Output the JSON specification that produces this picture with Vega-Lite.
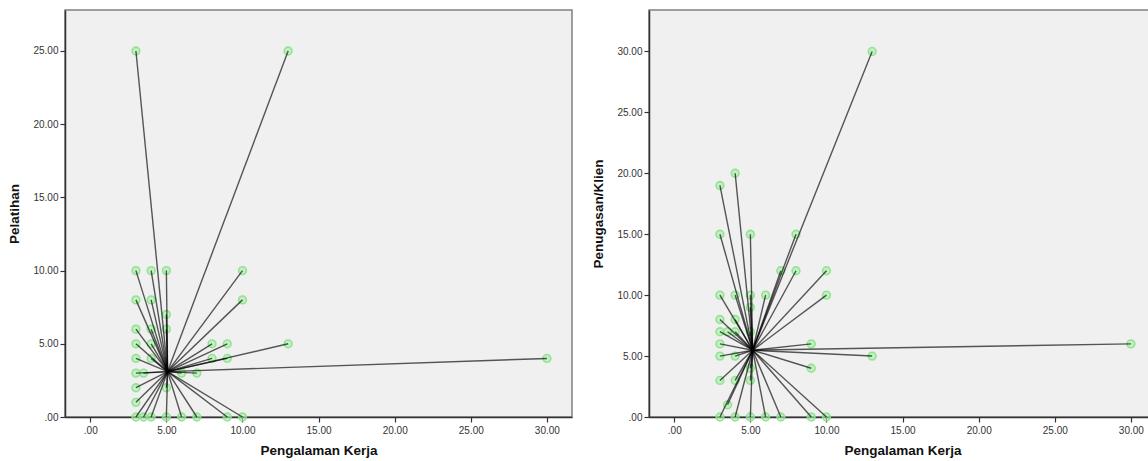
{
  "$schema": "https://vega.github.io/schema/vega-lite/v6.json",
  "background": "white",
  "padding": {"left": 7, "top": 9, "right": 0, "bottom": 0},
  "spacing": 77,
  "bounds": "flush",
  "config": {
    "font": "Liberation Sans",
    "view": {"fill": "#f0f0f0", "stroke": "#808080", "strokeWidth": 1.5},
    "axis": {
      "grid": false,
      "domainColor": "#333333",
      "domainWidth": 1.5,
      "tickColor": "#333333",
      "tickSize": 5,
      "tickWidth": 1.2,
      "labelFont": "Liberation Sans",
      "labelFontSize": 10,
      "labelColor": "#333333",
      "labelPadding": 3,
      "titleFont": "Liberation Sans",
      "titleFontSize": 13.5,
      "titleFontWeight": "bold",
      "titleColor": "#111111",
      "labelExpr": "datum.value == 0 ? '.00' : format(datum.value, '.2f')"
    },
    "axisX": {"titlePadding": 8},
    "axisY": {"titlePadding": 11, "labelPadding": 2}
  },
  "datasets": {
    "pelatihan": [
      {"kerja": 3, "val": 25}, {"kerja": 13, "val": 25},
      {"kerja": 3, "val": 10}, {"kerja": 4, "val": 10}, {"kerja": 5, "val": 10}, {"kerja": 10, "val": 10},
      {"kerja": 3, "val": 8}, {"kerja": 4, "val": 8}, {"kerja": 10, "val": 8},
      {"kerja": 5, "val": 7},
      {"kerja": 3, "val": 6}, {"kerja": 4, "val": 6}, {"kerja": 5, "val": 6},
      {"kerja": 3, "val": 5}, {"kerja": 4, "val": 5}, {"kerja": 8, "val": 5}, {"kerja": 9, "val": 5}, {"kerja": 13, "val": 5},
      {"kerja": 3, "val": 4}, {"kerja": 4, "val": 4}, {"kerja": 8, "val": 4}, {"kerja": 9, "val": 4}, {"kerja": 30, "val": 4},
      {"kerja": 3, "val": 3}, {"kerja": 3.5, "val": 3}, {"kerja": 6, "val": 3}, {"kerja": 7, "val": 3},
      {"kerja": 3, "val": 2}, {"kerja": 5, "val": 2},
      {"kerja": 3, "val": 1},
      {"kerja": 3, "val": 0}, {"kerja": 3.5, "val": 0}, {"kerja": 4, "val": 0}, {"kerja": 5, "val": 0}, {"kerja": 6, "val": 0}, {"kerja": 7, "val": 0}, {"kerja": 9, "val": 0}, {"kerja": 10, "val": 0}
    ],
    "penugasan": [
      {"kerja": 13, "val": 30}, {"kerja": 4, "val": 20}, {"kerja": 3, "val": 19},
      {"kerja": 3, "val": 15}, {"kerja": 5, "val": 15}, {"kerja": 8, "val": 15},
      {"kerja": 7, "val": 12}, {"kerja": 8, "val": 12}, {"kerja": 10, "val": 12},
      {"kerja": 3, "val": 10}, {"kerja": 4, "val": 10}, {"kerja": 5, "val": 10}, {"kerja": 6, "val": 10}, {"kerja": 10, "val": 10},
      {"kerja": 5, "val": 9},
      {"kerja": 3, "val": 8}, {"kerja": 4, "val": 8},
      {"kerja": 3, "val": 7}, {"kerja": 3.5, "val": 7}, {"kerja": 4, "val": 7}, {"kerja": 5, "val": 7},
      {"kerja": 3, "val": 6}, {"kerja": 9, "val": 6}, {"kerja": 30, "val": 6},
      {"kerja": 3, "val": 5}, {"kerja": 4, "val": 5}, {"kerja": 13, "val": 5},
      {"kerja": 5, "val": 4}, {"kerja": 9, "val": 4},
      {"kerja": 3, "val": 3}, {"kerja": 4, "val": 3}, {"kerja": 5, "val": 3},
      {"kerja": 3.5, "val": 1},
      {"kerja": 3, "val": 0}, {"kerja": 4, "val": 0}, {"kerja": 5, "val": 0}, {"kerja": 6, "val": 0}, {"kerja": 7, "val": 0}, {"kerja": 9, "val": 0}, {"kerja": 10, "val": 0}
    ]
  },
  "hconcat": [
    {
      "width": 507,
      "height": 407,
      "data": {"name": "pelatihan"},
      "encoding": {
        "x": {"field": "kerja", "type": "quantitative", "title": "Pengalaman Kerja",
              "scale": {"domain": [-1.66, 31.65], "nice": false, "zero": false},
              "axis": {"values": [0, 5, 10, 15, 20, 25, 30]}},
        "y": {"field": "val", "type": "quantitative", "title": "Pelatihan",
              "scale": {"domain": [0, 27.8], "nice": false},
              "axis": {"values": [0, 5, 10, 15, 20, 25]}}
      },
      "layer": [
        {"mark": {"type": "circle", "size": 60, "fill": "#a6eea6", "fillOpacity": 0.6, "stroke": "#86e086", "strokeWidth": 1.6, "strokeOpacity": 0.85}},
        {"mark": {"type": "rule", "color": "#000000", "opacity": 0.65, "strokeWidth": 1.4},
         "encoding": {"x2": {"datum": 5.08}, "y2": {"datum": 3.1}}}
      ]
    },
    {
      "width": 507,
      "height": 407,
      "data": {"name": "penugasan"},
      "encoding": {
        "x": {"field": "kerja", "type": "quantitative", "title": "Pengalaman Kerja",
              "scale": {"domain": [-1.66, 31.65], "nice": false, "zero": false},
              "axis": {"values": [0, 5, 10, 15, 20, 25, 30]}},
        "y": {"field": "val", "type": "quantitative", "title": "Penugasan/Klien",
              "scale": {"domain": [0, 33.4], "nice": false},
              "axis": {"values": [0, 5, 10, 15, 20, 25, 30]}}
      },
      "layer": [
        {"mark": {"type": "circle", "size": 60, "fill": "#a6eea6", "fillOpacity": 0.6, "stroke": "#86e086", "strokeWidth": 1.6, "strokeOpacity": 0.85}},
        {"mark": {"type": "rule", "color": "#000000", "opacity": 0.65, "strokeWidth": 1.4},
         "encoding": {"x2": {"datum": 5.15}, "y2": {"datum": 5.48}}}
      ]
    }
  ]
}
